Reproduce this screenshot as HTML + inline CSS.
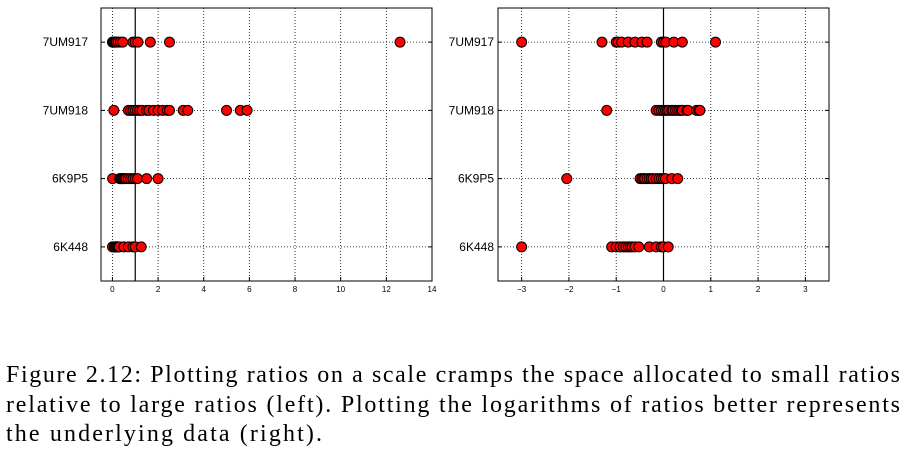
<!DOCTYPE html>
<html><head><meta charset="utf-8"><style>
html,body{margin:0;padding:0;background:#fff;width:916px;height:454px;overflow:hidden}
svg{display:block}
.tk{font-family:"Liberation Sans",sans-serif;font-size:8px;fill:#000}
.yl{font-family:"Liberation Sans",sans-serif;font-size:12px;fill:#000}
.cap{font-family:"Liberation Serif",serif;font-size:24px;fill:#000}
</style></head><body>
<svg id="fig" width="916" height="454" xmlns="http://www.w3.org/2000/svg">
<g id="left"></g>
<g id="right"></g>
<text class="cap" x="6" y="382" textLength="894" lengthAdjust="spacing">Figure 2.12: Plotting ratios on a scale cramps the space allocated to small ratios</text>
<text class="cap" x="6" y="412" textLength="894" lengthAdjust="spacing">relative to large ratios (left). Plotting the logarithms of ratios better represents</text>
<text class="cap" x="6" y="441" textLength="316" lengthAdjust="spacing">the underlying data (right).</text>
</svg>
<script>
const categories = ["7UM917","7UM918","6K9P5","6K448"];
const ratios7UM917 = [0.001,0.05,0.1,0.11,0.13,0.18,0.25,0.35,0.45,0.9,1,1.12,1.66,2.5,12.6];
const ratios7UM918 = [0.063,0.7,0.8,0.9,1.0,1.1,1.2,1.3,1.5,1.6,1.8,2.0,2.2,2.4,2.5,3.1,3.3,5.0,5.6,5.9];
const ratios6K9P5 = [0.009,0.32,0.35,0.38,0.4,0.45,0.5,0.55,0.6,0.7,0.8,0.9,1.0,1.1,1.5,2.0];
const ratios6K448 = [0.001,0.08,0.1,0.12,0.14,0.16,0.18,0.2,0.22,0.25,0.3,0.5,0.7,0.9,1.0,1.26];
const seriesList = [ratios7UM917, ratios7UM918, ratios6K9P5, ratios6K448];
const leftTicks = [0,2,4,6,8,10,12,14];
const rightTicks = [-3,-2,-1,0,1,2,3];
const rightTickLabels = ["\u22123","\u22122","\u22121","0","1","2","3"];

const NS = "http://www.w3.org/2000/svg";
function mk(tag, attrs, parent){const e=document.createElementNS(NS,tag);for(const k in attrs)e.setAttribute(k,attrs[k]);parent.appendChild(e);return e;}

function drawPanel(g, x0, x1, dmin, dmax, ticks, tickLabels, refVal, transform, labelRight, prefix){
  const y0=8, y1=281;
  const sx = v => x0 + (v-dmin)/(dmax-dmin)*(x1-x0);
  const sy = i => y0 + (i+0.5)/4*(y1-y0);
  ticks.forEach((t,i)=>{
    const l=mk('line',{x1:sx(t),x2:sx(t),y1:y0,y2:y1,stroke:'#000','stroke-width':0.8,'stroke-dasharray':'1,2'},g);
    
    
    const tk=mk('line',{x1:sx(t),x2:sx(t),y1:y1,y2:y1-4,stroke:'#000','stroke-width':1},g);
    
    
    const tx=mk('text',{x:sx(t),y:y1+11,'text-anchor':'middle',class:'tk'},g);
    tx.textContent=tickLabels[i];
    
    
  });
  categories.forEach((c,i)=>{
    const l=mk('line',{x1:x0,x2:x1,y1:sy(i),y2:sy(i),stroke:'#000','stroke-width':0.8,'stroke-dasharray':'1,2'},g);
    
    
    const tk=mk('line',{x1:x0,x2:x0+4,y1:sy(i),y2:sy(i),stroke:'#000'},g);
    
    
    const tk2=mk('line',{x1:x1,x2:x1-4,y1:sy(i),y2:sy(i),stroke:'#000'},g);
    
    
    const tx=mk('text',{x:labelRight,y:sy(i)+4,'text-anchor':'end',class:'yl'},g);
    tx.textContent=c;
    
    
  });
  const ref=mk('line',{x1:sx(refVal),x2:sx(refVal),y1:y0,y2:y1,stroke:'#000','stroke-width':1.2},g);
  
  
  seriesList.forEach((s,i)=>{
    s.forEach(v=>{
      const c=mk('circle',{cx:sx(transform(v)),cy:sy(i),r:5,fill:'#f00',stroke:'#000','stroke-width':1},g);
      
      
    });
  });
  const f=mk('rect',{x:x0,y:y0,width:x1-x0,height:y1-y0,fill:'none',stroke:'#000','stroke-width':1},g);
  
  
}
drawPanel(document.getElementById('left'),101,432,-0.5,14,leftTicks,leftTicks.map(String),1,v=>v,88,'left');
drawPanel(document.getElementById('right'),498,829,-3.5,3.5,rightTicks,rightTickLabels,0,v=>Math.log10(v),494,'right');
</script>
</body></html>
